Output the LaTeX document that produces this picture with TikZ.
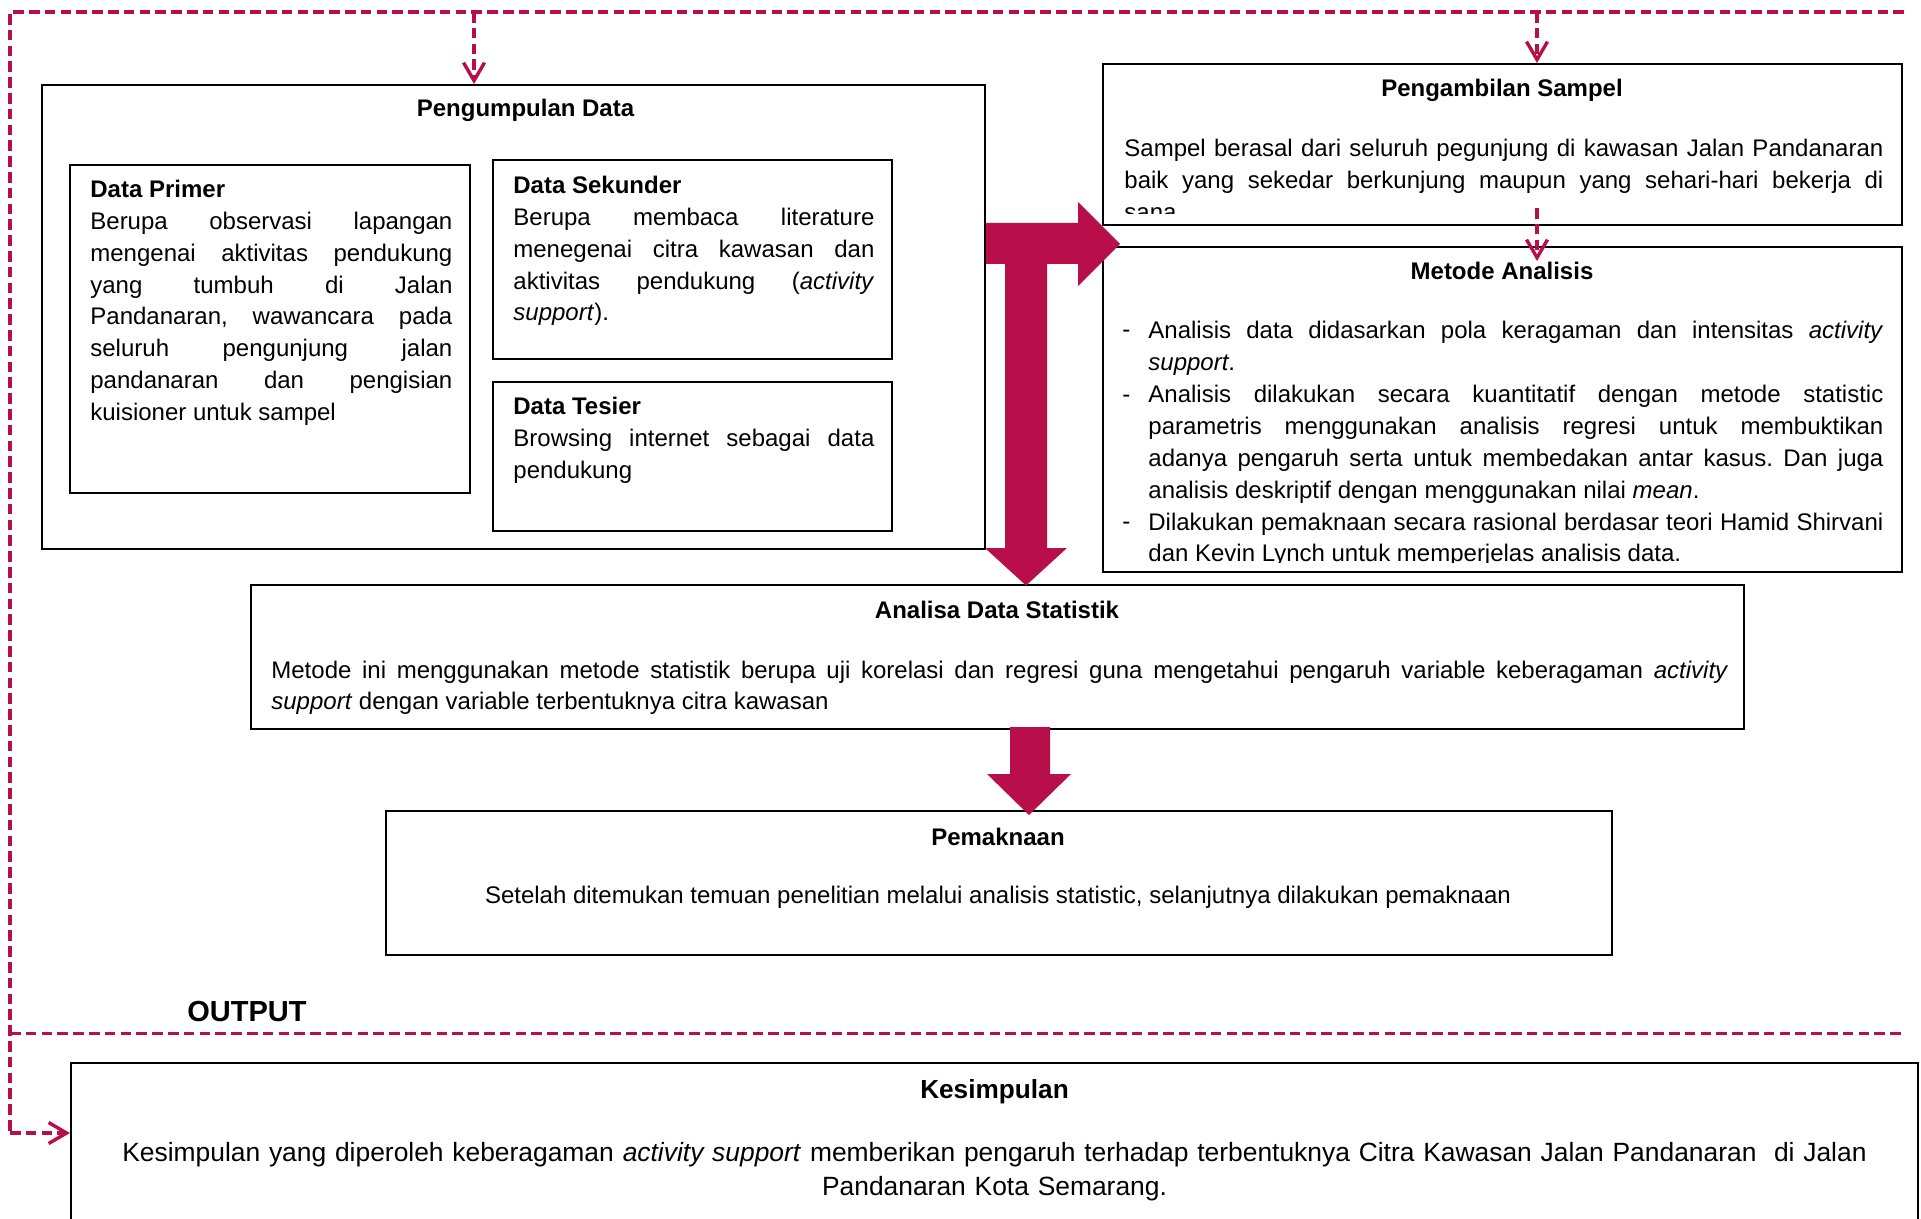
\documentclass[tikz,border=0pt]{standalone}
\usepackage{fontspec}
\setmainfont{Liberation Sans}
\usetikzlibrary{arrows.meta,fit,calc}
\definecolor{crim}{RGB}{184,14,74}
\frenchspacing
\begin{document}
\begin{tikzpicture}[x=0.5pt,y=-0.5pt,
  box/.style={draw=black,line width=1pt,inner sep=0pt},
  txt/.style={inner sep=0pt,anchor=north west,align=justify,font=\fontsize{12}{15.9}\selectfont},
  ttl/.style={inner sep=0pt,anchor=base,font=\bfseries\fontsize{12}{15.9}\selectfont},
  dsh/.style={draw=crim,line width=1.7pt,dash pattern=on 5.3pt off 2.6pt},
  dar/.style={dsh,-{Straight Barb[length=9pt,width=10.5pt]}},
  blk/.style={fill=crim,draw=none}]
\useasboundingbox (0,0) rectangle (1921,1219);

% boxes
\node[box,fit={(42,85) (985,548.5)}] (pd) {};
\node[box,fit={(70,165) (470,493)}] (prim) {};
\node[box,fit={(493,160) (892,359)}] (sek) {};
\node[box,fit={(493,382) (892,531)}] (tes) {};
\node[box,fit={(1103,64) (1902,225)}] (samp) {};
\node[box,fit={(1103,247) (1902,571.5)}] (met) {};
\node[box,fit={(251,585) (1743.5,728.5)}] (ana) {};
\node[box,fit={(386,811) (1612,955)}] (pem) {};
\node[box,fit={(71,1063) (1918,1240)}] (kes) {};

% Pengumpulan Data
\node[ttl] (tpd) at (525.5,117) {Pengumpulan Data};
\node[txt,text width=181pt] (xprim) at (90,175) {\strut\textbf{Data Primer}\\
Berupa observasi lapangan\linebreak mengenai aktivitas pendukung\linebreak yang tumbuh di Jalan\linebreak Pandanaran, wawancara pada\linebreak seluruh pengunjung jalan\linebreak pandanaran dan pengisian\linebreak kuisioner untuk sampel};
\node[txt,text width=180.5pt] (xsek) at (513,171) {\strut\textbf{Data Sekunder}\\
Berupa membaca literature\linebreak menegenai citra kawasan dan\linebreak aktivitas pendukung (\textit{activity}\linebreak \textit{support}).};
\node[txt,text width=180.5pt] (xtes) at (513,392) {\strut\textbf{Data Tesier}\\
Browsing internet sebagai data\linebreak pendukung};

% Pengambilan Sampel
\node[ttl] (tsamp) at (1502,97) {Pengambilan Sampel};
\begin{scope}
\clip (1103,64) rectangle (1902,214);
\node[txt,text width=379.5pt] (xsamp) at (1124,134) {\strut Sampel berasal dari seluruh pegunjung di kawasan Jalan Pandanaran\linebreak baik yang sekedar berkunjung maupun yang sehari-hari bekerja di\linebreak sana};
\end{scope}

% Metode Analisis
\node[ttl] (tmet) at (1502,280) {Metode Analisis};
\begin{scope}
\clip (1103,247) rectangle (1902,562);
\node[txt,anchor=base west] (d1) at (1122,338) {-};
\node[txt,anchor=base west] (d2) at (1122,402) {-};
\node[txt,anchor=base west] (d3) at (1122,529.5) {-};
\node[txt,text width=367.5pt] (m1) at (1148,316) {\strut Analisis data didasarkan pola keragaman dan intensitas \textit{activity}\linebreak \textit{support}.};
\node[txt,text width=367.5pt] (m2) at (1148,380) {\strut Analisis dilakukan secara kuantitatif dengan metode statistic\linebreak parametris menggunakan analisis regresi untuk membuktikan\linebreak adanya pengaruh serta untuk membedakan antar kasus. Dan juga\linebreak analisis deskriptif dengan menggunakan nilai \textit{mean}.};
\node[txt,text width=367.5pt] (m3) at (1148,507.5) {\strut Dilakukan pemaknaan secara rasional berdasar teori Hamid Shirvani\linebreak dan Kevin Lynch untuk memperjelas analisis data.};
\end{scope}

% Analisa Data Statistik
\node[ttl] (tana) at (997,618) {Analisa Data Statistik};
\node[txt,text width=728.5pt] (xana) at (271,655.5) {\strut Metode ini menggunakan metode statistik berupa uji korelasi dan regresi guna mengetahui pengaruh variable keberagaman \textit{activity}\linebreak \textit{support} dengan variable terbentuknya citra kawasan};

% Pemaknaan
\node[ttl] (tpem) at (998,845) {Pemaknaan};
\node[txt,anchor=base] (xpem) at (998,903) {Setelah ditemukan temuan penelitian melalui analisis statistic, selanjutnya dilakukan pemaknaan};

% Output
\node[inner sep=0pt,anchor=base west,font=\bfseries\fontsize{14.5}{17}\selectfont] (out) at (187,1021) {OUTPUT};

% Kesimpulan
\node[inner sep=0pt,anchor=base,font=\bfseries\fontsize{13.1}{16}\selectfont] (tkes) at (994.5,1098) {Kesimpulan};
\node[inner sep=0pt,anchor=north,align=center,text width=930pt,font=\fontsize{13.2}{16.75}\selectfont] (xkes) at (994.5,1138) {\strut Kesimpulan yang diperoleh keberagaman \textit{activity support} memberikan pengaruh terhadap terbentuknya Citra Kawasan Jalan Pandanaran\ \ di Jalan\\ Pandanaran Kota Semarang.};

% dashed connectors
\coordinate (tl) at (10,12);
\coordinate (tr) at (1904,12);
\coordinate (j1) at (474,12);
\coordinate (j2) at (1537,12);
\coordinate (bl) at (10,1133);
\coordinate (s1) at (1537,208);
\coordinate (s2) at (1537,261);
\coordinate (sepl) at (10,1033.7);
\coordinate (sepr) at (1902,1033.7);
\draw[dsh] (tr) -- (tl) -- (bl);
\draw[dar] (bl) -- (bl -| kes.west);
\draw[dar] (j1) -- (j1 |- pd.north);
\draw[dar] (j2) -- (j2 |- samp.north);
\draw[dar] (s1) -- (s2);
\draw[dsh] (sepl) -- (sepr);

% block arrows
\fill[blk] (986,223) -- (1078,223) -- (1078,202) -- (1120,244) -- (1078,286) -- (1078,264) -- (1047,264) -- (1047,548) -- (1067,548) -- (1026,585.5) -- (985,548) -- (1005,548) -- (1005,264) -- (986,264) -- cycle;
\fill[blk] (1010,727) -- (1050,727) -- (1050,774) -- (1071,774) -- (1029,815) -- (987,774) -- (1010,774) -- cycle;
\end{tikzpicture}
\end{document}
